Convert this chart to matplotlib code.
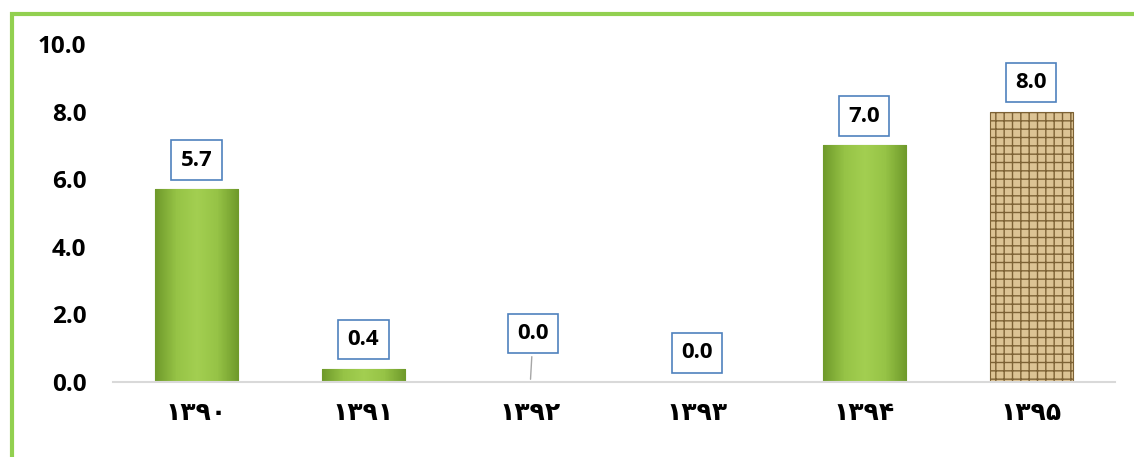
import numpy as np
import matplotlib.pyplot as plt
from matplotlib.colors import LinearSegmentedColormap
from matplotlib.patches import Rectangle

years = ['۱۳۹۰', '۱۳۹۱', '۱۳۹۲', '۱۳۹۳', '۱۳۹۴', '۱۳۹۵']
values = [5.7, 0.4, 0.0, 0.0, 7.0, 8.0]
labels = ['5.7', '0.4', '0.0', '0.0', '7.0', '8.0']

plt.rcParams['font.family'] = ['Open Sans', 'DejaVu Sans']

fig = plt.figure(figsize=(11.34, 4.57), dpi=100)
ax = fig.add_axes([0.0996, 0.164, 0.8834, 0.7397])

x = np.arange(len(values))
bars = ax.bar(x, values, width=0.5, color='#8fbc3c', edgecolor='#6a8f25', linewidth=0.8, zorder=2)

# green gradient on the first five bars, burlap-like look on the last one
green = LinearSegmentedColormap.from_list('g', ['#6f9a2b', '#96c346', '#a3cf51', '#96c346', '#6f9a2b'])
grad = np.linspace(0, 1, 64).reshape(1, -1)
for i, b in enumerate(bars):
    if values[i] <= 0:
        b.set_visible(False)
        continue
    if i == len(values) - 1:
        b.set_facecolor('#dcc394')
        b.set_edgecolor('#7d6235')
        b.set_hatch('++')
        continue
    x0, w, h = b.get_x(), b.get_width(), b.get_height()
    im = ax.imshow(grad, cmap=green, extent=[x0, x0 + w, 0, h], aspect='auto', zorder=2.5)
    im.set_clip_path(b)

# value labels in boxes
for i, v in enumerate(values):
    dy = 35 if i == 2 else 21
    dx = 2 if i == 2 else 0
    arrow = dict(arrowstyle='-', color='#a6a6a6', lw=1) if i == 2 else None
    ax.annotate(labels[i], xy=(x[i], v), xytext=(dx, dy), textcoords='offset points',
                ha='center', va='center', fontsize=16, fontweight='bold', color='black',
                bbox=dict(boxstyle='square,pad=0.42', fc='white', ec='#4f81bd', lw=1.2),
                arrowprops=arrow, zorder=4)

ax.set_xlim(-0.5, 5.5)
ax.set_ylim(0, 10)
ax.set_yticks(np.arange(0, 10.1, 2))
ax.set_yticklabels(['%.1f' % t for t in np.arange(0, 10.1, 2)], fontsize=17.5, fontweight='bold')
ax.set_xticks(x)
ax.set_xticklabels(years, fontsize=18, fontweight='bold', family='DejaVu Sans')
ax.tick_params(axis='y', length=0, pad=19)
ax.tick_params(axis='x', length=0, pad=14)
for s in ['top', 'right', 'left']:
    ax.spines[s].set_visible(False)
ax.spines['bottom'].set_color('#d9d9d9')
ax.spines['bottom'].set_linewidth(1.5)

# green frame (left and top edges visible)
fig.patches.append(Rectangle((0.0106, -0.2), 2, 1.169, transform=fig.transFigure,
                             fill=False, ec='#92d050', lw=3, zorder=0))

fig.savefig('out.png', dpi=100)
